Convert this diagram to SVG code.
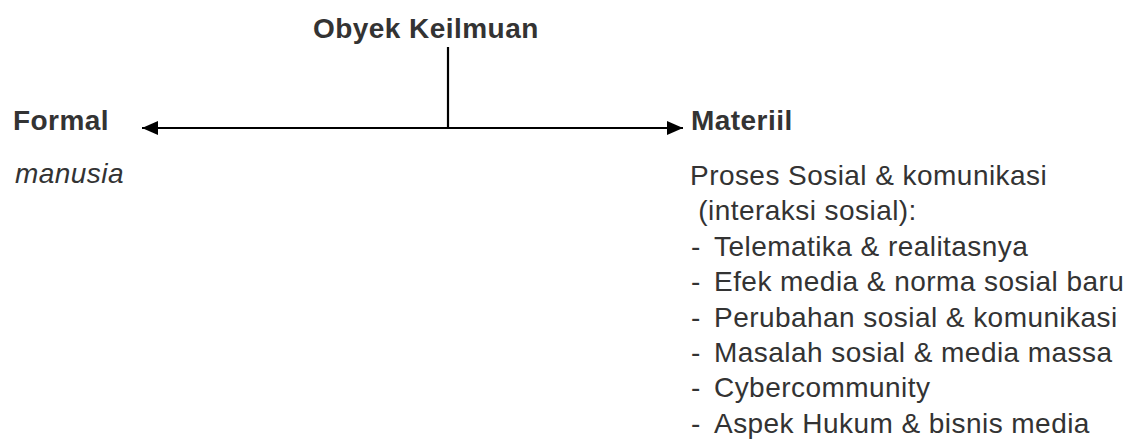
<svg xmlns="http://www.w3.org/2000/svg" width="1142" height="445" viewBox="0 0 1142 445">
<style>
text { font-family: "Liberation Sans", Arial, sans-serif; fill: #333333; letter-spacing: 0.45px; }
.b { font-weight: bold; font-size: 28px; }
.r { font-size: 28px; }
.i { font-size: 28px; font-style: italic; }
.ln { stroke: #000; stroke-width: 2.2; fill: none; }
</style>
<defs>
<marker id="ah" viewBox="0 0 16 14" refX="16" refY="7" markerWidth="16" markerHeight="14" markerUnits="userSpaceOnUse" orient="auto">
<path d="M0,0 L16,7 L0,14 Z" fill="#000"/>
</marker>
</defs>
<g id="connectors">
<line class="ln" x1="448" y1="47" x2="448" y2="128"/>
<line class="ln" x1="448" y1="128" x2="142" y2="128" marker-end="url(#ah)"/>
<line class="ln" x1="448" y1="128" x2="683" y2="128" marker-end="url(#ah)"/>
</g>
<g id="obyek">
<text class="b" x="313" y="38">Obyek Keilmuan</text>
</g>
<g id="formal">
<text class="b" x="13" y="130">Formal</text>
<text class="i" x="15" y="183">manusia</text>
</g>
<g id="materiil">
<text class="b" x="691" y="130">Materiil</text>
<text class="r" x="690" y="185">Proses Sosial &amp; komunikasi</text>
<text class="r" x="690" y="220.4" xml:space="preserve"> (interaksi sosial):</text>
<text class="r" x="691" y="255.8">-</text><text class="r" x="714" y="255.8">Telematika &amp; realitasnya</text>
<text class="r" x="691" y="291.2">-</text><text class="r" x="714" y="291.2">Efek media &amp; norma sosial baru</text>
<text class="r" x="691" y="326.6">-</text><text class="r" x="714" y="326.6">Perubahan sosial &amp; komunikasi</text>
<text class="r" x="691" y="362">-</text><text class="r" x="714" y="362">Masalah sosial &amp; media massa</text>
<text class="r" x="691" y="397.4">-</text><text class="r" x="714" y="397.4">Cybercommunity</text>
<text class="r" x="691" y="432.8">-</text><text class="r" x="714" y="432.8">Aspek Hukum &amp; bisnis media</text>
</g>
</svg>
